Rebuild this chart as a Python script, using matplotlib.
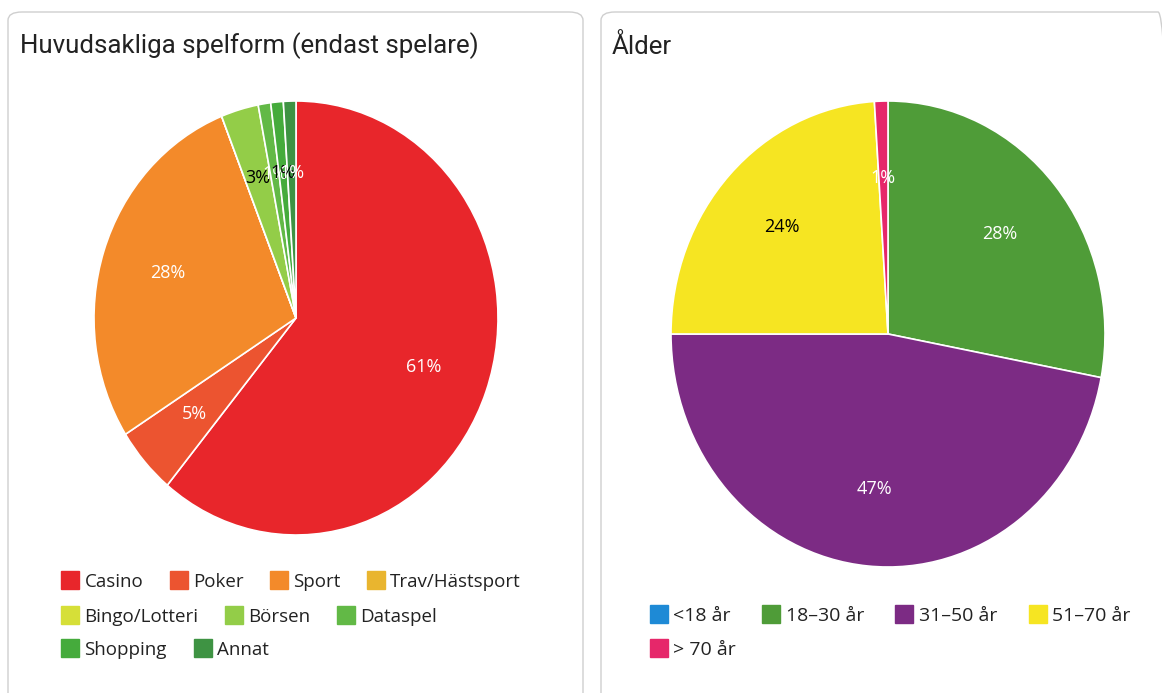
import matplotlib
matplotlib.use('Agg')
import matplotlib.pyplot as plt
from matplotlib.patches import FancyBboxPatch
from matplotlib.lines import Line2D

# data
spel_labels = ['Casino', 'Poker', 'Sport', 'Trav/Hästsport', 'Bingo/Lotteri',
               'Börsen', 'Dataspel', 'Shopping', 'Annat']
spel_values = [61, 5, 28, 0, 0, 3, 1, 1, 1]
spel_colors = ['#e8262b', '#ec5430', '#f38a2a', '#e9b52f', '#d6df38',
               '#93cd48', '#62b946', '#45ab3c', '#3e9343']
spel_text = ['white', 'white', 'white', 'black', 'black', 'black', 'white', 'black', 'white']

alder_labels = ['<18 år', '18–30 år', '31–50 år', '51–70 år', '> 70 år']
alder_values = [0, 28, 47, 24, 1]
alder_colors = ['#1e8ad6', '#4f9c38', '#7c2b84', '#f6e522', '#e6276a']
alder_text = ['white', 'white', 'white', 'black', 'white']

W, H = 1162, 693
fig = plt.figure(figsize=(W / 100, H / 100), dpi=100)
fig.patch.set_facecolor('white')


def fx(px):
    return px / W


def fy(py):
    return 1 - py / H


# panel frames
for x0, x1 in [(8, 583), (601, 1172)]:
    box = FancyBboxPatch((fx(x0), fy(720)), fx(x1 - x0), (720 - 12) / H,
                         boxstyle='round,pad=0,rounding_size=0.012',
                         transform=fig.transFigure, facecolor='none',
                         edgecolor='#cfcfcf', linewidth=1.0, zorder=-1)
    fig.patches.append(box)

fig.text(fx(20), fy(46), 'Huvudsakliga spelform (endast spelare)', fontsize=18.6,
         family='Roboto', va='center', ha='left', color='#222222')
fig.text(fx(612), fy(46), 'Ålder', fontsize=18.6,
         family='Roboto', va='center', ha='left', color='#222222')


def draw_pie(cx, cy, rx, ry, values, colors, tcolors):
    ax = fig.add_axes([fx(cx - rx), fy(cy + ry), fx(2 * rx), (2 * ry) / H])
    wedges, texts, autotexts = ax.pie(
        values, colors=colors, startangle=90, counterclock=False,
        autopct=lambda p: '%d%%' % round(p) if p > 0.5 else '',
        pctdistance=0.67, wedgeprops=dict(edgecolor='white', linewidth=1.2),
        textprops=dict(fontsize=13, family='Open Sans'))
    for t, c in zip(autotexts, tcolors):
        t.set_color(c)
    ax.set_aspect('auto')
    ax.set_xlim(-1, 1)
    ax.set_ylim(-1, 1)
    for w in wedges:
        w.set_clip_on(False)
    return ax


draw_pie(296, 318, 202, 217, spel_values, spel_colors, spel_text)
draw_pie(888, 334, 217, 233, alder_values, alder_colors, alder_text)


def legend_row(labels, colors, x, y, spacing, size):
    handles = [Line2D([], [], marker='s', linestyle='none', markersize=12.5,
                      markerfacecolor=c, markeredgecolor=c) for c in colors]
    leg = fig.legend(handles, labels, loc='center left',
                     bbox_to_anchor=(fx(x), fy(y)), ncol=len(labels),
                     frameon=False, handlelength=0.9, handletextpad=0.3,
                     columnspacing=spacing, borderpad=0, borderaxespad=0,
                     prop=dict(family='Open Sans', size=size))
    for t in leg.get_texts():
        t.set_color('#222222')
    return leg


legend_row(spel_labels[0:4], spel_colors[0:4], 62, 582, 1.45, 13.5)
legend_row(spel_labels[4:7], spel_colors[4:7], 62, 617, 1.45, 13.5)
legend_row(spel_labels[7:9], spel_colors[7:9], 62, 650, 1.45, 13.5)
legend_row(alder_labels[0:4], alder_colors[0:4], 650, 616, 1.62, 14)
legend_row(alder_labels[4:5], alder_colors[4:5], 650, 650, 1.62, 14)

fig.savefig('out.png', dpi=100)
